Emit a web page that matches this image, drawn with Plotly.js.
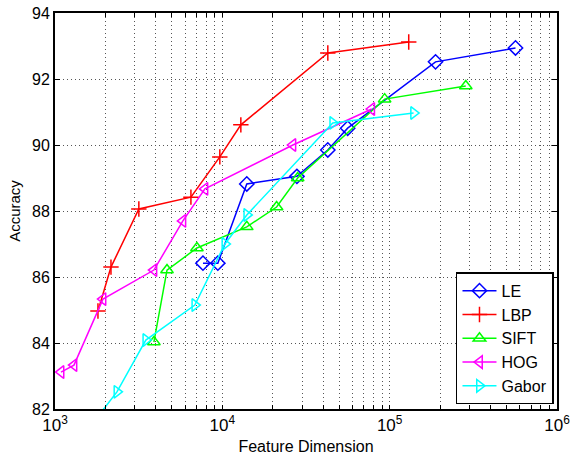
<!DOCTYPE html>
<html>
<head>
<meta charset="utf-8">
<script src="https://cdn.plot.ly/plotly-3.0.1.min.js"></script>
<style>html,body{margin:0;padding:0;background:#fff;}#chart{width:574px;height:456px;}</style>
</head>
<body>
<div id="chart"></div>
<script>
// Data
const leDim = [7660, 9400, 14000, 27900, 42700, 56100, 188000, 565000];
const leAcc = [86.42, 86.42, 88.82, 89.05, 89.85, 90.51, 92.52, 92.94];

const lbpDim = [1806, 2160, 3170, 6490, 9660, 12900, 42700, 130000];
const lbpAcc = [84.97, 86.30, 88.06, 88.42, 89.64, 90.61, 92.79, 93.12];

const siftDim = [3900, 4670, 7050, 14000, 21100, 28200, 93300, 285000];
const siftAcc = [84.03, 86.21, 86.88, 87.52, 88.12, 89.00, 91.39, 91.79];

const hogDim = [1086, 1298, 1935, 3900, 5810, 7870, 26400, 78100];
const hogAcc = [83.12, 83.33, 85.33, 86.21, 87.70, 88.67, 90.00, 91.09];

const gaborDim = [1700, 2345, 3490, 6850, 10360, 14000, 45700, 139000];
const gaborAcc = [81.60, 82.52, 84.09, 85.15, 87.00, 87.88, 90.67, 90.97];

const seriesNames = ["LE", "LBP", "SIFT", "HOG", "Gabor"];
const yTicks = [82, 84, 86, 88, 90, 92, 94];
const decades = [1e3, 1e4, 1e5, 1e6];
const decadeLabels = ["10<sup>3</sup>", "10<sup>4</sup>", "10<sup>5</sup>", "10<sup>6</sup>"];

// x tick positions: every 1..9 multiple of each decade, labels on decades only
const xTickVals = [];
const xTickText = [];
for (let d = 0; d < decades.length; d++) {
  const maxK = d === decades.length - 1 ? 1 : 9;
  for (let k = 1; k <= maxK; k++) {
    xTickVals.push(decades[d] * k);
    xTickText.push(k === 1 ? decadeLabels[d] : "");
  }
}

function trace(name, x, y, color, symbol, size) {
  return {
    type: "scatter", mode: "lines+markers", name: name, x: x, y: y,
    line: {color: color, width: 1.5},
    marker: {symbol: symbol, size: size, color: color, line: {color: color, width: 1.5}}
  };
}

const data = [
  trace(seriesNames[0], leDim, leAcc, "#0000ff", "diamond-open", 11),
  trace(seriesNames[1], lbpDim, lbpAcc, "#ff0000", "cross-thin-open", 11),
  trace(seriesNames[2], siftDim, siftAcc, "#00ff00", "triangle-up-open", 11),
  trace(seriesNames[3], hogDim, hogAcc, "#ff00ff", "triangle-left-open", 11),
  trace(seriesNames[4], gaborDim, gaborAcc, "#00ffff", "triangle-right-open", 11)
];

const layout = {
  width: 574, height: 456,
  margin: {l: 55, r: 17, t: 13, b: 47},
  paper_bgcolor: "#fff", plot_bgcolor: "#fff",
  font: {family: "Liberation Sans, Arial, sans-serif", size: 16, color: "#000"},
  showlegend: true,
  xaxis: {
    type: "log", range: [3, 6],
    tickvals: xTickVals, ticktext: xTickText,
    ticks: "inside", ticklen: 4, tickcolor: "#000", tickwidth: 1,
    showgrid: true, gridcolor: "#555", griddash: "1px,3px", gridwidth: 1,
    showline: true, linecolor: "#000", linewidth: 2, mirror: "ticks",
    zeroline: false,
    tickfont: {size: 17},
    title: {text: "Feature Dimension", font: {size: 16}, standoff: 6}
  },
  yaxis: {
    range: [82, 94],
    tickvals: yTicks,
    ticks: "inside", ticklen: 5, tickcolor: "#000", tickwidth: 1,
    showgrid: true, gridcolor: "#555", griddash: "1px,3px", gridwidth: 1,
    showline: true, linecolor: "#000", linewidth: 2, mirror: "ticks",
    zeroline: false,
    tickfont: {size: 16},
    title: {text: "Accuracy", font: {size: 15}, standoff: 8}
  },
  legend: {
    x: 0.994, xanchor: "right", y: 0.012, yanchor: "bottom",
    bgcolor: "#fff", bordercolor: "#000", borderwidth: 1.5,
    font: {size: 16}, itemwidth: 34, tracegroupgap: 0
  }
};

Plotly.newPlot("chart", data, layout, {displayModeBar: false, staticPlot: true});
</script>
</body>
</html>
